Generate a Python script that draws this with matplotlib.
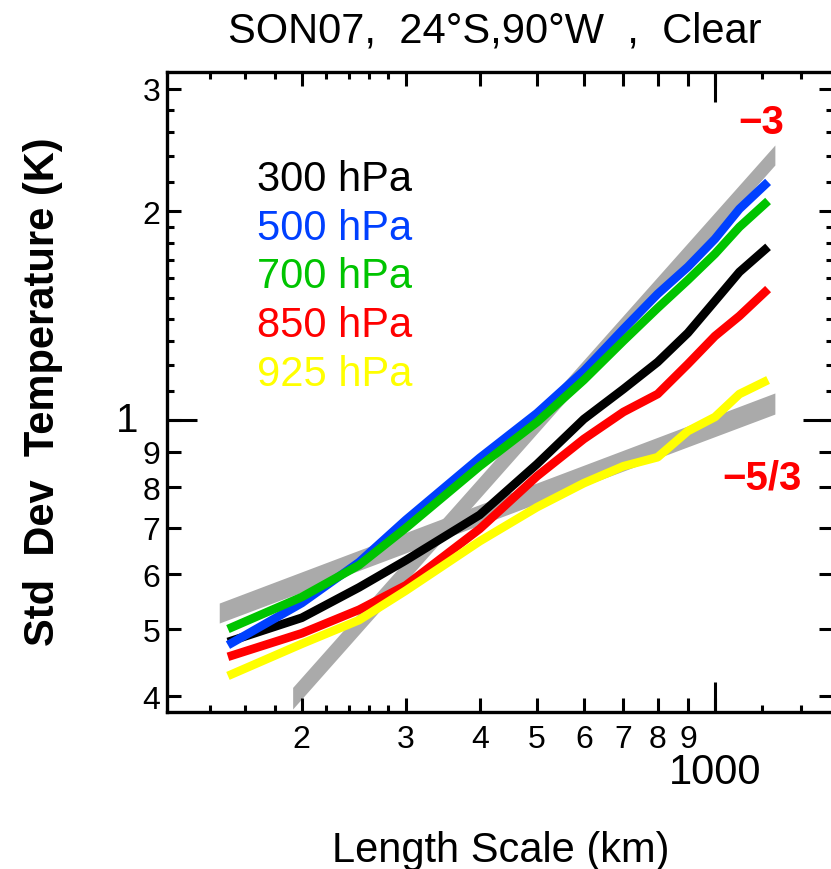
import matplotlib
matplotlib.use("Agg")
import matplotlib.pyplot as plt
from matplotlib.ticker import FixedLocator, FixedFormatter, NullFormatter
from matplotlib.transforms import ScaledTranslation
from matplotlib.lines import TICKUP, TICKDOWN, TICKLEFT, TICKRIGHT

plt.rcParams['font.family'] = ['Liberation Sans', 'DejaVu Sans']

# Length scales (km) at which the std dev was computed
length_km = [150, 200, 250, 300, 400, 500, 600, 700, 800, 900, 1000, 1100, 1230]

# Std dev of temperature (K) per pressure level
std_300 = [0.479, 0.519, 0.574, 0.628, 0.730, 0.864, 1.003, 1.108, 1.212, 1.335, 1.484, 1.634, 1.776]
std_500 = [0.474, 0.545, 0.624, 0.718, 0.882, 1.023, 1.177, 1.352, 1.519, 1.662, 1.823, 2.014, 2.203]
std_700 = [0.500, 0.556, 0.618, 0.699, 0.858, 0.993, 1.142, 1.300, 1.450, 1.591, 1.735, 1.897, 2.068]
std_850 = [0.456, 0.493, 0.533, 0.578, 0.697, 0.830, 0.939, 1.027, 1.090, 1.204, 1.321, 1.412, 1.544]
std_925 = [0.428, 0.476, 0.515, 0.568, 0.669, 0.749, 0.811, 0.858, 0.884, 0.964, 1.010, 1.090, 1.142]

levels = ['300 hPa', '500 hPa', '700 hPa', '850 hPa', '925 hPa']
colors = ['#000000', '#0040ff', '#00c400', '#ff0000', '#ffff00']
series = [std_300, std_500, std_700, std_850, std_925]

# Reference slope bands (-3 and -5/3 spectra)
band3_x = [193, 1263]
band3_lo = [0.3835, 2.33]
band3_hi = [0.412, 2.49]
band53_x = [145, 1263]
band53_lo = [0.510, 1.02]
band53_hi = [0.545, 1.094]

# Axis ticks
x_major = [200, 300, 400, 500, 600, 700, 800, 900, 1000]
x_major_labels = ['2', '3', '4', '5', '6', '7', '8', '9', '']
x_minor = [140, 160, 180, 220, 240, 260, 280, 1200, 1400]
y_major = [0.4, 0.5, 0.6, 0.7, 0.8, 0.9, 1.0, 2.0, 3.0]
y_major_labels = ['4', '5', '6', '7', '8', '9', '', '2', '3']
y_minor = [1.1, 1.2, 1.3, 1.4, 1.5, 1.6, 1.7, 1.8, 1.9, 2.2, 2.4, 2.6, 2.8]

W, H = 831, 870
fig = plt.figure(figsize=(W / 100, H / 100), dpi=100)
ax = fig.add_axes([167 / W, 1 - 713 / H, (833 - 167) / W, (713 - 73) / H])
ax.set_xscale('log')
ax.set_yscale('log')
ax.set_xlim(118.3, 1584)
ax.set_ylim(0.3797, 3.172)

grey = '#aaaaaa'
ax.fill_between(band53_x, band53_lo, band53_hi, color=grey, lw=0, zorder=1)
ax.fill_between(band3_x, band3_lo, band3_hi, color=grey, lw=0, zorder=1)

for vals, c in zip(series, colors):
    ax.plot(length_km, vals, color=c, lw=6.2, solid_capstyle='butt',
            solid_joinstyle='round', zorder=2)

for s in ax.spines.values():
    s.set_linewidth(2.4)

ax.xaxis.set_major_locator(FixedLocator(x_major))
ax.xaxis.set_major_formatter(FixedFormatter(x_major_labels))
ax.xaxis.set_minor_locator(FixedLocator(x_minor))
ax.xaxis.set_minor_formatter(NullFormatter())
ax.yaxis.set_major_locator(FixedLocator(y_major))
ax.yaxis.set_major_formatter(FixedFormatter(y_major_labels))
ax.yaxis.set_minor_locator(FixedLocator(y_minor))
ax.yaxis.set_minor_formatter(NullFormatter())

ax.tick_params(which='both', direction='in', top=True, right=True,
               width=2.2, color='black')
ax.tick_params(which='major', length=10)
ax.tick_params(which='minor', length=5)
ax.tick_params(axis='x', which='major', labelsize=23, pad=9)
ax.tick_params(axis='y', which='major', labelsize=23, pad=5)

# Long decade ticks at 1000 km and 1 K
xt = ax.get_xaxis_transform()
yt = ax.get_yaxis_transform()
tk = dict(color='black', markersize=21.6, markeredgewidth=2.2, clip_on=False, zorder=5)
ax.plot([1000], [0], marker=TICKUP, transform=xt, **tk)
ax.plot([1000], [1], marker=TICKDOWN, transform=xt, **tk)
ax.plot([0], [1.0], marker=TICKRIGHT, transform=yt, **tk)
ax.plot([1], [1.0], marker=TICKLEFT, transform=yt, **tk)

# Decade labels
ax.text(1000, 0, '1000', fontsize=30, ha='center', va='center',
        transform=xt + ScaledTranslation(0, -0.60, fig.dpi_scale_trans))
ax.text(0, 1.0, '1', fontsize=29, ha='right', va='center',
        transform=yt + ScaledTranslation(-0.29, 0, fig.dpi_scale_trans))

# Level legend
ax_w, ax_h = 833 - 167, 713 - 73
for i, (lab, c) in enumerate(zip(levels, colors)):
    base = 191 + 48.75 * i
    ax.text((257 - 167) / ax_w, (713 - base) / ax_h, lab, color=c, fontsize=30,
            ha='left', va='baseline', transform=ax.transAxes)

# Slope labels
ax.text((761 - 167) / ax_w, (713 - 134) / ax_h, '\u22123', color='#ff0000',
        fontsize=29, fontweight='bold', ha='center', va='baseline',
        transform=ax.transAxes)
ax.text((762 - 167) / ax_w, (713 - 490) / ax_h, '\u22125/3', color='#ff0000',
        fontsize=29, fontweight='bold', ha='center', va='baseline',
        transform=ax.transAxes)

fig.text(495 / W, 1 - 43 / H, 'SON07,  24\u00b0S,90\u00b0W  ,  Clear',
         fontsize=30, ha='center', va='baseline')
fig.text(501 / W, 1 - 862 / H, 'Length Scale (km)', fontsize=30,
         ha='center', va='baseline')
fig.text(43 / W, 1 - 392 / H, 'Std  Dev  Temperature (K)', fontsize=30,
         fontweight='bold', rotation=90, ha='center', va='center')

fig.savefig('out.png', dpi=100)
